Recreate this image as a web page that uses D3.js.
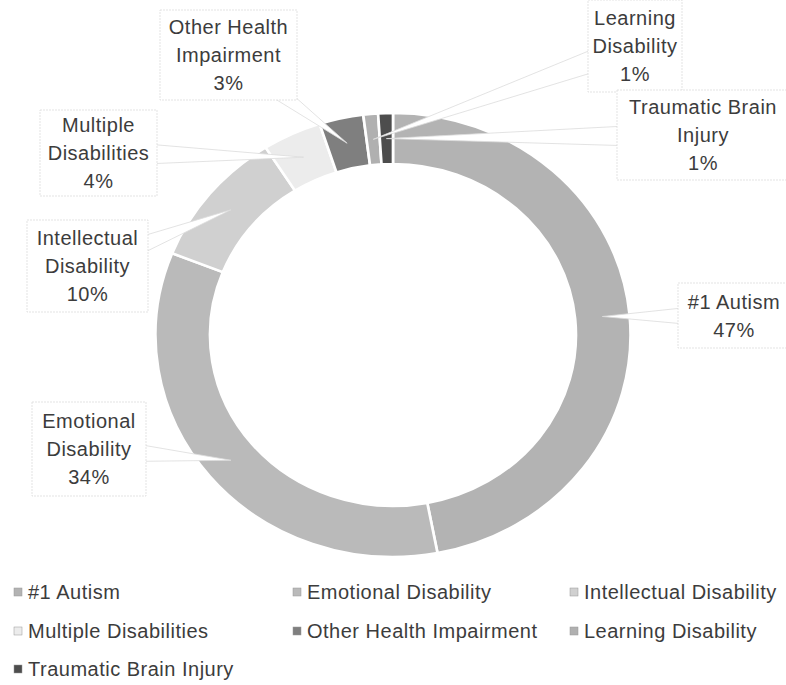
<!DOCTYPE html>
<html>
<head>
<meta charset="utf-8">
<script src="https://cdn.jsdelivr.net/npm/d3@7/dist/d3.min.js"></script>
<style>
  body { margin: 0; background: #fff; }
  text { font-family: "Liberation Sans", Arial, sans-serif; fill: #3c3c3c; letter-spacing: 0.5px; }
</style>
</head>
<body>
<div id="chart"></div>
<script>
// data
var categories = ["#1 Autism", "Emotional Disability", "Intellectual Disability",
                  "Multiple Disabilities", "Other Health Impairment", "Learning Disability",
                  "Traumatic Brain Injury"];
var percents = [47, 34, 10, 4, 3, 1, 1];
var labelLines = [["#1 Autism"], ["Emotional", "Disability"], ["Intellectual", "Disability"],
                  ["Multiple", "Disabilities"], ["Other Health", "Impairment"],
                  ["Learning", "Disability"], ["Traumatic Brain", "Injury"]];
var colors = ["#b3b3b3", "#bababa", "#d0d0d0", "#ececec", "#7f7f7f", "#b0b0b0", "#4d4d4d"];

// callout boxes (layout)
var boxes = [
  { x: 678, y: 283, w: 112, h: 65 },
  { x: 32,  y: 402, w: 114, h: 94 },
  { x: 27,  y: 220, w: 121, h: 92 },
  { x: 40,  y: 110, w: 117, h: 86 },
  { x: 160, y: 10,  w: 137, h: 90 },
  { x: 588, y: 0,   w: 94,  h: 92 },
  { x: 617, y: 90,  w: 172, h: 90 }
];

var width = 786, height = 685;
var cx = 393, cy = 335;
var outerR = 222, innerR = 171, sx = 1.07;
var fontSize = 20, lineH = 28;

var dataset = categories.map(function(c, i) { return { label: c, count: percents[i] }; });

var color = d3.scaleOrdinal().domain(categories).range(colors);

var svg = d3.select('#chart').append('svg')
  .attr('width', width)
  .attr('height', height);

var pie = d3.pie().value(function(d) { return d.count; }).sort(null);
var arc = d3.arc().outerRadius(outerR).innerRadius(innerR);

var arcs = pie(dataset);

var ring = svg.append('g')
  .attr('transform', 'translate(' + cx + ',' + cy + ') scale(' + sx + ',1)');

ring.selectAll('path')
  .data(arcs)
  .enter()
  .append('path')
  .attr('d', arc)
  .attr('fill', function(d) { return color(d.data.label); })
  .attr('stroke', '#fff')
  .attr('stroke-width', 2.5);

// callout pointers
var callouts = svg.append('g');

arcs.forEach(function(d, i) {
  var c = arc.centroid(d);
  var tx = cx + c[0] * sx, ty = cy + c[1];
  var b = boxes[i];
  var bx = b.x + b.w / 2, by = b.y + b.h / 2;
  var ang = Math.atan2(ty - by, tx - bx);
  var half = 13;
  var px = -Math.sin(ang) * half, py = Math.cos(ang) * half;
  callouts.append('path')
    .attr('d', 'M' + tx + ',' + ty + 'L' + (bx + px) + ',' + (by + py) +
               'L' + (bx - px) + ',' + (by - py) + 'Z')
    .attr('fill', '#fff')
    .attr('stroke', '#dcdcdc')
    .attr('stroke-width', 0.8);
});

arcs.forEach(function(d, i) {
  var b = boxes[i];
  callouts.append('rect')
    .attr('x', b.x).attr('y', b.y)
    .attr('width', b.w).attr('height', b.h)
    .attr('fill', '#fff')
    .attr('stroke', '#dcdcdc')
    .attr('stroke-width', 0.8)
    .attr('stroke-dasharray', '2,1');

  var lines = labelLines[i].concat([percents[i] + '%']);
  var top = b.y + b.h / 2 - (lines.length - 1) * lineH / 2;
  lines.forEach(function(t, j) {
    callouts.append('text')
      .attr('x', b.x + b.w / 2)
      .attr('y', top + j * lineH)
      .attr('dy', '0.35em')
      .attr('text-anchor', 'middle')
      .style('font-size', fontSize + 'px')
      .text(t);
  });
});

// legend
var legendCols = [14, 293, 570];
var legendRows = [592, 631, 669];

var legend = svg.selectAll('.legend')
  .data(categories)
  .enter()
  .append('g')
  .attr('class', 'legend')
  .attr('transform', function(d, i) {
    return 'translate(' + legendCols[i % 3] + ',' + legendRows[Math.floor(i / 3)] + ')';
  });

legend.append('rect')
  .attr('x', 0).attr('y', -4)
  .attr('width', 8).attr('height', 8)
  .style('fill', color)
  .style('stroke', '#999')
  .style('stroke-width', 0.5);

legend.append('text')
  .attr('x', 14)
  .attr('dy', '0.35em')
  .style('font-size', fontSize + 'px')
  .text(function(d) { return d; });
</script>
</body>
</html>
